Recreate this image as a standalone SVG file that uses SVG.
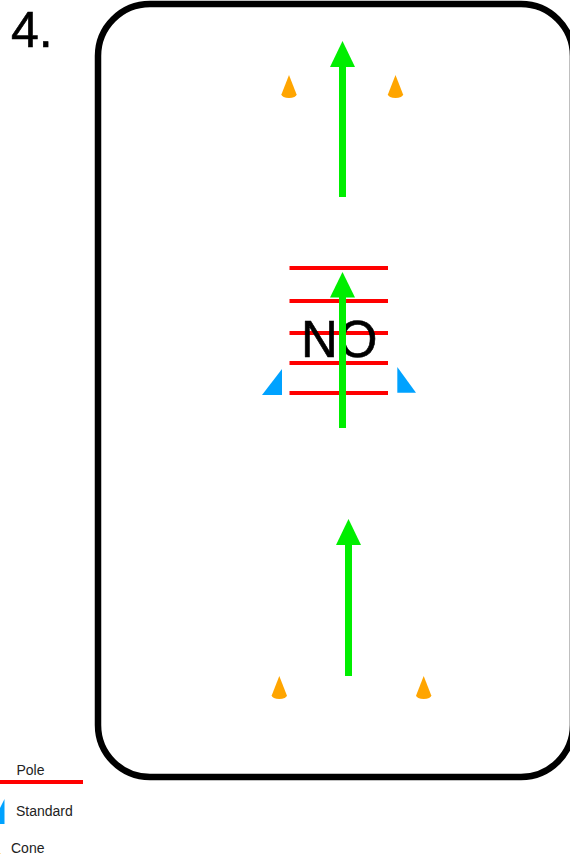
<svg xmlns="http://www.w3.org/2000/svg" width="570" height="854" viewBox="0 0 570 854">
<style>
text{font-family:"Liberation Sans",Arial,sans-serif;fill:#000}
.legend{font-size:14px;fill:#222}
.big{stroke:#000;stroke-width:.6}
.pole{stroke:#f00;stroke-width:4;fill:none}
.shaft{stroke:#0e0;stroke-width:7;fill:none}
.head{fill:#0e0}
.std{fill:#00a2ff}
.cone{fill:#ffa500}
</style>
<defs>
<g id="cone-shape"><path class="cone" d="M0 0L7.6 19.5A7.6 3.4 0 0 1 -7.6 19.5Z"/></g>
</defs>
<rect width="570" height="854" fill="#fff"/>
<text id="title" class="big" x="11" y="47" font-size="50">4.</text>
<rect id="field" x="98" y="4" width="475" height="773" rx="52" ry="52" fill="none" stroke="#000" stroke-width="6.500"/>
<g id="cone-top-left"><use href="#cone-shape" x="289" y="75"/></g>
<g id="cone-top-right"><use href="#cone-shape" x="395.500" y="75"/></g>
<g id="cone-bottom-left"><use href="#cone-shape" x="279.300" y="676"/></g>
<g id="cone-bottom-right"><use href="#cone-shape" x="423.700" y="676"/></g>
<g id="poles">
<line class="pole" x1="289.500" y1="268" x2="388" y2="268"/>
<line class="pole" x1="289.500" y1="301" x2="388" y2="301"/>
<line class="pole" x1="289.500" y1="333" x2="388" y2="333"/>
<line class="pole" x1="289.500" y1="363" x2="388" y2="363"/>
<line class="pole" x1="289.500" y1="393" x2="388" y2="393"/>
</g>
<g id="standard-left"><path class="std" d="M282 369V395H262Z"/></g>
<g id="standard-right"><path class="std" d="M397.300 367V392.800H416Z"/></g>
<text id="no-label" class="big" x="301" y="357" font-size="51">NO</text>
<g id="connectors">
<line class="shaft" x1="342.500" y1="197" x2="342.500" y2="66"/>
<path class="head" d="M342.500 41L355 67H330Z"/>
<line class="shaft" x1="342.500" y1="428" x2="342.500" y2="296"/>
<path class="head" d="M342.500 272L355 297.500H330Z"/>
<line class="shaft" x1="348.500" y1="676" x2="348.500" y2="544"/>
<path class="head" d="M348.500 519L361 545H336Z"/>
</g>
<g id="legend">
<text class="legend" x="16.500" y="775">Pole</text>
<line class="pole" x1="0" y1="782" x2="83" y2="782"/>
<path class="std" d="M4.500 799V824H-8Z"/>
<text class="legend" x="16" y="815.500">Standard</text>
<use href="#cone-shape" x="-6.500" y="836"/>
<text class="legend" x="11" y="852.500">Cone</text>
</g>
</svg>
